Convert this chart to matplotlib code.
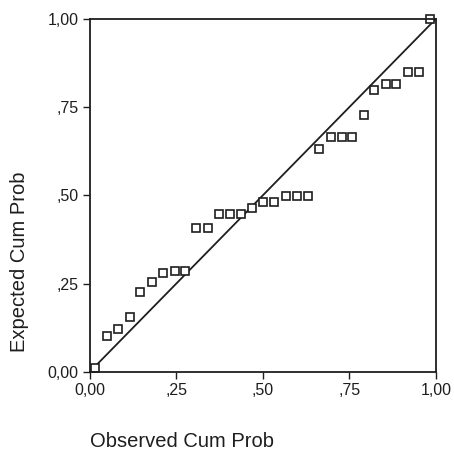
import matplotlib
matplotlib.use("Agg")
import matplotlib.pyplot as plt

plt.rcParams['font.family'] = ['Liberation Sans', 'DejaVu Sans']

# observed vs expected cumulative probabilities
observed = [0.016, 0.050, 0.080, 0.115, 0.146, 0.180, 0.211, 0.245, 0.276,
            0.306, 0.341, 0.372, 0.406, 0.436, 0.469, 0.501, 0.533, 0.567,
            0.598, 0.631, 0.663, 0.697, 0.728, 0.758, 0.791, 0.821, 0.855,
            0.886, 0.919, 0.952, 0.982]
expected = [0.010, 0.102, 0.120, 0.154, 0.227, 0.253, 0.279, 0.286, 0.286,
            0.407, 0.407, 0.446, 0.446, 0.446, 0.464, 0.480, 0.480, 0.497,
            0.497, 0.497, 0.631, 0.666, 0.666, 0.666, 0.729, 0.799, 0.816,
            0.816, 0.850, 0.850, 1.000]
ref_line = [0, 1]
ticks = [0, 0.25, 0.5, 0.75, 1.0]
tick_labels = ['0,00', ',25', ',50', ',75', '1,00']

ink = '#1e1e1e'

fig = plt.figure(figsize=(4.54, 4.5), dpi=100)
ax = fig.add_axes([0.198, 0.174, 0.762, 0.784])

ax.plot(ref_line, ref_line, color=ink, lw=1.3)
ax.plot(observed, expected, ls='none', marker='s', ms=5.5, mfc='white',
        mec=ink, mew=1.2, clip_on=False)

ax.set_xlim(0, 1)
ax.set_ylim(0, 1)
ax.set_xticks(ticks)
ax.set_xticklabels(tick_labels)
ax.set_yticks(ticks)
ax.set_yticklabels(tick_labels)
ax.tick_params(direction='out', length=5, width=1, pad=3, labelsize=11.5,
               colors=ink)
for sp in ax.spines.values():
    sp.set_color(ink)
    sp.set_linewidth(1.3)

fig.text(20 / 454, 1 - 262 / 450, 'Expected Cum Prob', rotation=90,
         ha='center', va='center', fontsize=14.5, color=ink)
fig.text(182 / 454, 1 - 447 / 450, 'Observed Cum Prob', ha='center',
         va='baseline', fontsize=14.5, color=ink)

fig.savefig('out.png', dpi=100)
